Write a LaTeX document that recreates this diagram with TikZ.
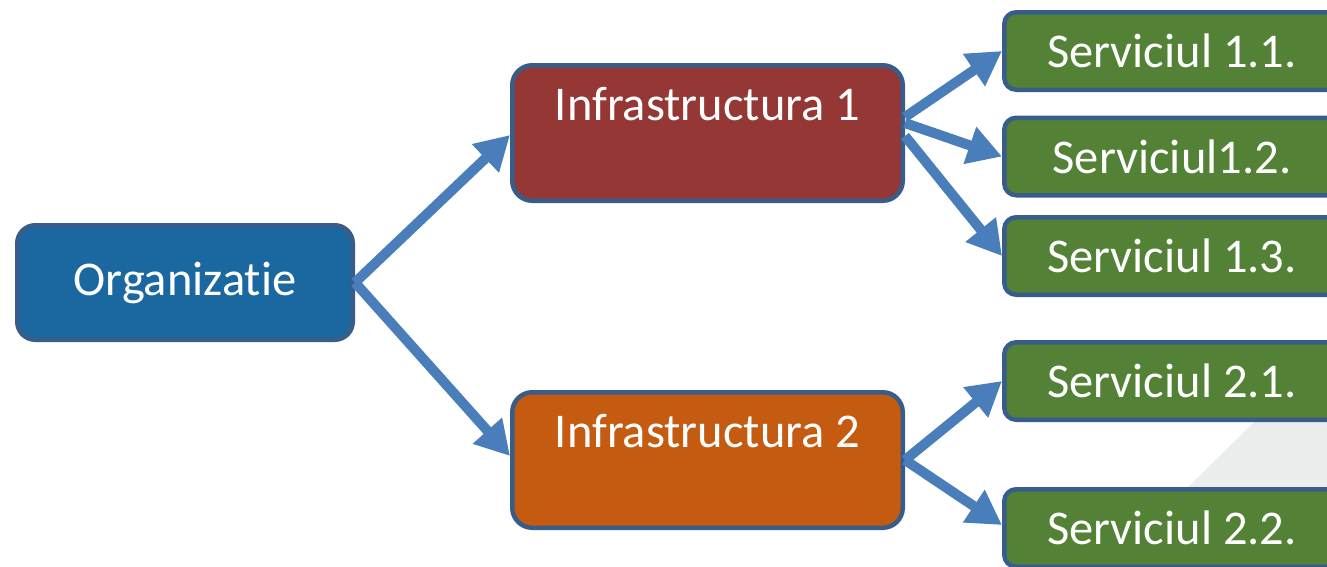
\documentclass[tikz,border=0pt]{standalone}
\usepackage{fontspec}
\setmainfont{Carlito}[Ligatures={NoCommon,NoRequired}]
\usetikzlibrary{arrows.meta}
\definecolor{orgblue}{HTML}{1B68A0}
\definecolor{edgeblue}{HTML}{385D8A}
\definecolor{arrowblue}{HTML}{4A7EBB}
\definecolor{infrared}{HTML}{953735}
\definecolor{infraorange}{HTML}{C55A11}
\definecolor{servgreen}{HTML}{538135}
\definecolor{bggrey}{HTML}{EBECEC}
\tikzset{
  box/.style={draw=edgeblue, line width=4.5pt, text=white, inner sep=0pt,
    font=\fontsize{48.5}{58}\selectfont},
  orgbox/.style={box, fill=orgblue, rounded corners=18pt,
    minimum width=335.5pt, minimum height=114.5pt},
  infrabox/.style={box, rounded corners=20pt, minimum width=390.5pt,
    text height=55pt, text depth=80.5pt},
  servbox/.style={box, fill=servgreen, rounded corners=12pt,
    minimum width=335.5pt, minimum height=77.5pt},
  conn/.style={draw=arrowblue, line width=10pt,
    -{Triangle[length=34pt,width=37pt]}, fill=arrowblue}
}
\begin{document}
\begin{tikzpicture}[x=1pt,y=-1pt]
\useasboundingbox (0,0) rectangle (1327,566);
\fill[bggrey] (1108,566) -- (1327,350) -- (1327,566) -- cycle;

\node[orgbox] (org) at (185,282.5) {Organizatie};
\node[infrabox, fill=infrared] (i1) at (707.5,133) {Infrastructura 1};
\node[infrabox, fill=infraorange] (i2) at (707.5,460) {Infrastructura 2};

\node[servbox] (s11) at (1172,51) {Serviciul 1.1.};
\node[servbox] (s12) at (1172,156.5) {Serviciul1.2.};
\node[servbox] (s13) at (1172,256) {Serviciul 1.3.};
\node[servbox] (s21) at (1172,381) {Serviciul 2.1.};
\node[servbox] (s22) at (1172,528) {Serviciul 2.2.};

\draw[conn] (org.east) -- ([yshift=-2pt]i1.west);
\draw[conn] (org.east) -- ([yshift=4pt]i2.west);
\draw[conn] ([yshift=16pt]i1.east) -- (s11.west);
\draw[conn] ([yshift=10pt]i1.east) -- (s12.west);
\draw[conn] ([yshift=-3pt]i1.east) -- (s13.west);
\draw[conn] (i2.east) -- (s21.west);
\draw[conn] (i2.east) -- ([yshift=3pt]s22.west);
\end{tikzpicture}
\end{document}
